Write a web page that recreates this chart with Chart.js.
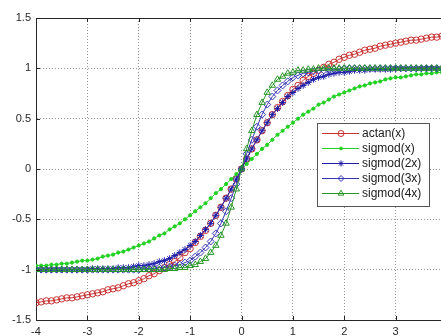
<!DOCTYPE html>
<html>
<head>
<meta charset="utf-8">
<script src="https://cdn.jsdelivr.net/npm/chart.js@4/dist/chart.umd.min.js"></script>
<style>
html,body{margin:0;padding:0;background:#fff;overflow:hidden;width:441px;height:336px;}
#wrap{position:absolute;left:0;top:0;width:460px;height:336px;}
</style>
</head>
<body>
<div id="wrap"><canvas id="c" width="460" height="336"></canvas></div>
<script>
const xs = [-4.0,-3.9,-3.8,-3.7,-3.6,-3.5,-3.4,-3.3,-3.2,-3.1,-3.0,-2.9,-2.8,-2.7,-2.6,-2.5,-2.4,-2.3,-2.2,-2.1,-2.0,-1.9,-1.8,-1.7,-1.6,-1.5,-1.4,-1.3,-1.2,-1.1,-1.0,-0.9,-0.8,-0.7,-0.6,-0.5,-0.4,-0.3,-0.2,-0.1,0.0,0.1,0.2,0.3,0.4,0.5,0.6,0.7,0.8,0.9,1.0,1.1,1.2,1.3,1.4,1.5,1.6,1.7,1.8,1.9,2.0,2.1,2.2,2.3,2.4,2.5,2.6,2.7,2.8,2.9,3.0,3.1,3.2,3.3,3.4,3.5,3.6,3.7,3.8,3.9,4.0];

const actanX = [-1.33,-1.32,-1.31,-1.31,-1.30,-1.29,-1.28,-1.28,-1.27,-1.26,-1.25,-1.24,-1.23,-1.22,-1.20,-1.19,-1.18,-1.16,-1.14,-1.13,-1.11,-1.09,-1.06,-1.04,-1.01,-0.98,-0.95,-0.92,-0.88,-0.83,-0.79,-0.73,-0.67,-0.61,-0.54,-0.46,-0.38,-0.29,-0.20,-0.10,0.00,0.10,0.20,0.29,0.38,0.46,0.54,0.61,0.67,0.73,0.79,0.83,0.88,0.92,0.95,0.98,1.01,1.04,1.06,1.09,1.11,1.13,1.14,1.16,1.18,1.19,1.20,1.22,1.23,1.24,1.25,1.26,1.27,1.28,1.28,1.29,1.30,1.31,1.31,1.32,1.33];

const sigmod1 = [-0.96,-0.96,-0.96,-0.95,-0.95,-0.94,-0.94,-0.93,-0.92,-0.91,-0.91,-0.90,-0.89,-0.87,-0.86,-0.85,-0.83,-0.82,-0.80,-0.78,-0.76,-0.74,-0.72,-0.69,-0.66,-0.64,-0.60,-0.57,-0.54,-0.50,-0.46,-0.42,-0.38,-0.34,-0.29,-0.24,-0.20,-0.15,-0.10,-0.05,0.00,0.05,0.10,0.15,0.20,0.24,0.29,0.34,0.38,0.42,0.46,0.50,0.54,0.57,0.60,0.64,0.66,0.69,0.72,0.74,0.76,0.78,0.80,0.82,0.83,0.85,0.86,0.87,0.89,0.90,0.91,0.91,0.92,0.93,0.94,0.94,0.95,0.95,0.96,0.96,0.96];

const sigmod2 = [-1.00,-1.00,-1.00,-1.00,-1.00,-1.00,-1.00,-1.00,-1.00,-1.00,-1.00,-0.99,-0.99,-0.99,-0.99,-0.99,-0.98,-0.98,-0.98,-0.97,-0.96,-0.96,-0.95,-0.94,-0.92,-0.91,-0.89,-0.86,-0.83,-0.80,-0.76,-0.72,-0.66,-0.60,-0.54,-0.46,-0.38,-0.29,-0.20,-0.10,0.00,0.10,0.20,0.29,0.38,0.46,0.54,0.60,0.66,0.72,0.76,0.80,0.83,0.86,0.89,0.91,0.92,0.94,0.95,0.96,0.96,0.97,0.98,0.98,0.98,0.99,0.99,0.99,0.99,0.99,1.00,1.00,1.00,1.00,1.00,1.00,1.00,1.00,1.00,1.00,1.00];

const sigmod3 = [-1.00,-1.00,-1.00,-1.00,-1.00,-1.00,-1.00,-1.00,-1.00,-1.00,-1.00,-1.00,-1.00,-1.00,-1.00,-1.00,-1.00,-1.00,-1.00,-1.00,-1.00,-0.99,-0.99,-0.99,-0.98,-0.98,-0.97,-0.96,-0.95,-0.93,-0.91,-0.87,-0.83,-0.78,-0.72,-0.64,-0.54,-0.42,-0.29,-0.15,0.00,0.15,0.29,0.42,0.54,0.64,0.72,0.78,0.83,0.87,0.91,0.93,0.95,0.96,0.97,0.98,0.98,0.99,0.99,0.99,1.00,1.00,1.00,1.00,1.00,1.00,1.00,1.00,1.00,1.00,1.00,1.00,1.00,1.00,1.00,1.00,1.00,1.00,1.00,1.00,1.00];

const sigmod4 = [-1.00,-1.00,-1.00,-1.00,-1.00,-1.00,-1.00,-1.00,-1.00,-1.00,-1.00,-1.00,-1.00,-1.00,-1.00,-1.00,-1.00,-1.00,-1.00,-1.00,-1.00,-1.00,-1.00,-1.00,-1.00,-1.00,-0.99,-0.99,-0.98,-0.98,-0.96,-0.95,-0.92,-0.89,-0.83,-0.76,-0.66,-0.54,-0.38,-0.20,0.00,0.20,0.38,0.54,0.66,0.76,0.83,0.89,0.92,0.95,0.96,0.98,0.98,0.99,0.99,1.00,1.00,1.00,1.00,1.00,1.00,1.00,1.00,1.00,1.00,1.00,1.00,1.00,1.00,1.00,1.00,1.00,1.00,1.00,1.00,1.00,1.00,1.00,1.00,1.00,1.00];

const seriesNames = ['actan(x)','sigmod(x)','sigmod(2x)','sigmod(3x)','sigmod(4x)'];
const xTicks = [-4,-3,-2,-1,0,1,2,3,4];
const yTicks = [-1.5,-1,-0.5,0,0.5,1,1.5];

const FONT = "'Liberation Sans', Arial, sans-serif";
const styles = [
  {color:'#c83232', point:'circle', r:3.2, lr:3, fill:'rgba(0,0,0,0)'},
  {color:'#22d022', point:'circle', r:1.6, lr:1.4, fill:'#22d022'},
  {color:'#1c1ca8', point:'star', r:3.3, lr:3, fill:'rgba(0,0,0,0)'},
  {color:'#3535b4', point:'rectRot', r:3.5, lr:3, fill:'rgba(0,0,0,0)'},
  {color:'#2a962a', point:'triangle', r:3.7, lr:3.3, fill:'rgba(0,0,0,0)'}
];
const allData = [actanX, sigmod1, sigmod2, sigmod3, sigmod4];

const datasets = allData.map((arr, i) => ({
  label: seriesNames[i],
  data: xs.map((x, j) => ({x: x, y: arr[j]})),
  borderColor: styles[i].color,
  backgroundColor: styles[i].fill,
  borderWidth: 1,
  pointStyle: styles[i].point,
  pointRadius: styles[i].r,
  pointBorderColor: styles[i].color,
  pointBackgroundColor: styles[i].fill,
  pointBorderWidth: 1,
  tension: 0,
  order: 5 - i
}));

const framePlugin = {
  id: 'frame',
  afterDraw(chart) {
    const ctx = chart.ctx;
    const a = chart.chartArea;
    const xs_ = chart.scales.x, ys_ = chart.scales.y;
    ctx.save();
    ctx.strokeStyle = '#262626';
    ctx.lineWidth = 1;
    ctx.setLineDash([]);
    ctx.beginPath();
    ctx.moveTo(a.left, Math.round(a.top) + 0.5);
    ctx.lineTo(a.right, Math.round(a.top) + 0.5);
    ctx.stroke();
    // inward tick marks
    ctx.beginPath();
    xTicks.forEach(t => {
      const px = Math.round(xs_.getPixelForValue(t)) + 0.5;
      ctx.moveTo(px, a.bottom); ctx.lineTo(px, a.bottom - 4);
      ctx.moveTo(px, a.top); ctx.lineTo(px, a.top + 4);
    });
    yTicks.forEach(t => {
      const py = Math.round(ys_.getPixelForValue(t)) + 0.5;
      ctx.moveTo(a.left, py); ctx.lineTo(a.left + 4, py);
    });
    ctx.stroke();

    // legend box
    const bx = 317, by = 123, bw = 112, bh = 83;
    ctx.fillStyle = '#ffffff';
    ctx.fillRect(bx, by, bw, bh);
    ctx.strokeStyle = '#555';
    ctx.strokeRect(bx + 0.5, by + 0.5, bw, bh);
    ctx.font = '12px ' + FONT;
    ctx.textBaseline = 'middle';
    ctx.textAlign = 'left';
    seriesNames.forEach((name, i) => {
      const yy = by + 10.5 + i * 15;
      const s = styles[i];
      ctx.strokeStyle = s.color;
      ctx.lineWidth = 1;
      ctx.beginPath();
      ctx.moveTo(322, yy); ctx.lineTo(359, yy);
      ctx.stroke();
      ctx.fillStyle = s.fill;
      ctx.strokeStyle = s.color;
      Chart.helpers.drawPoint(ctx, {pointStyle: s.point, radius: s.lr, borderWidth: 1, rotation: 0}, 341, yy);
      ctx.fillStyle = '#1a1a1a';
      ctx.fillText(name, 362, yy);
    });
    ctx.restore();
  }
};

new Chart(document.getElementById('c'), {
  type: 'line',
  data: { datasets: datasets },
  options: {
    responsive: false,
    animation: false,
    events: [],
    layout: { padding: { top: 18, right: 13, left: 0, bottom: 0 } },
    plugins: { legend: { display: false }, tooltip: { enabled: false } },
    scales: {
      x: {
        type: 'linear', min: -4, max: 4,
        afterBuildTicks: (s) => { s.ticks = xTicks.map(v => ({value: v})); },
        afterFit: (s) => { s.height = 16; },
        ticks: { color: '#262626', font: { family: FONT, size: 11 }, padding: 5, maxRotation: 0,
                 callback: (v) => String(v) },
        grid: { color: 'rgba(60,60,60,0.55)', drawTicks: false, lineWidth: 1 },
        border: { display: true, color: '#262626', width: 1, dash: [1, 2] }
      },
      y: {
        type: 'linear', min: -1.5, max: 1.5,
        afterBuildTicks: (s) => { s.ticks = yTicks.map(v => ({value: v})); },
        afterFit: (s) => { s.width = 36; },
        ticks: { color: '#262626', font: { family: FONT, size: 11 }, padding: 5,
                 callback: (v) => String(v) },
        grid: { color: 'rgba(60,60,60,0.55)', drawTicks: false, lineWidth: 1 },
        border: { display: true, color: '#262626', width: 1, dash: [1, 2] }
      }
    }
  },
  plugins: [framePlugin]
});
</script>
</body>
</html>
